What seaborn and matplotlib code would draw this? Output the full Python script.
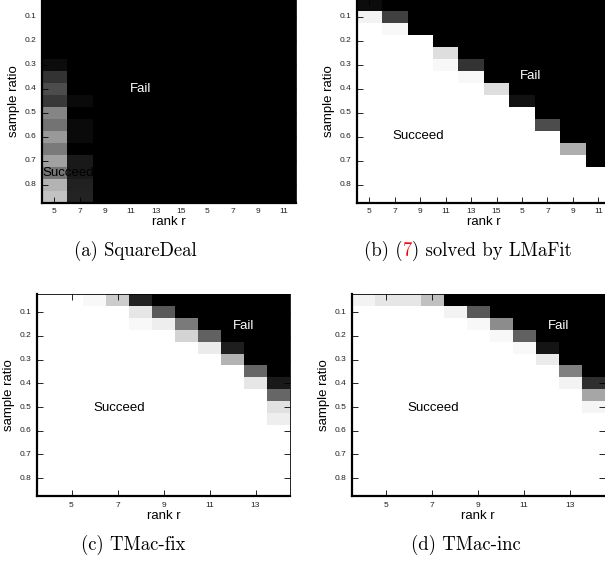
import matplotlib
matplotlib.use('Agg')
import matplotlib.pyplot as plt
import seaborn as sns
import numpy as np

# sample ratios (rows) shared by all four panels
ratios = [0.05, 0.10, 0.15, 0.20, 0.25, 0.30, 0.35, 0.40, 0.45,
          0.50, 0.55, 0.60, 0.65, 0.70, 0.75, 0.80, 0.85]
ratio_ticks = [0.1, 0.2, 0.3, 0.4, 0.5, 0.6, 0.7, 0.8]

# rank labels
ranks_ab = [5, 7, 9, 11, 13, 15, 5, 7, 9, 11]
ranks_cd = [4, 5, 6, 7, 8, 9, 10, 11, 12, 13, 14]
rank_ticks_cd = [5, 7, 9, 11, 13]

# success rate (1 = white / succeed, 0 = black / fail)
rate_squaredeal = [
    [0, 0, 0, 0, 0, 0, 0, 0, 0, 0],
    [0, 0, 0, 0, 0, 0, 0, 0, 0, 0],
    [0, 0, 0, 0, 0, 0, 0, 0, 0, 0],
    [0, 0, 0, 0, 0, 0, 0, 0, 0, 0],
    [0, 0, 0, 0, 0, 0, 0, 0, 0, 0],
    [0.05, 0, 0, 0, 0, 0, 0, 0, 0, 0],
    [0.20, 0, 0, 0, 0, 0, 0, 0, 0, 0],
    [0.30, 0, 0, 0, 0, 0, 0, 0, 0, 0],
    [0.22, 0.04, 0, 0, 0, 0, 0, 0, 0, 0],
    [0.52, 0, 0, 0, 0, 0, 0, 0, 0, 0],
    [0.45, 0.04, 0, 0, 0, 0, 0, 0, 0, 0],
    [0.60, 0.04, 0, 0, 0, 0, 0, 0, 0, 0],
    [0.48, 0, 0, 0, 0, 0, 0, 0, 0, 0],
    [0.63, 0.10, 0, 0, 0, 0, 0, 0, 0, 0],
    [0.46, 0.10, 0, 0, 0, 0, 0, 0, 0, 0],
    [0.70, 0.13, 0, 0, 0, 0, 0, 0, 0, 0],
    [0.76, 0.14, 0, 0, 0, 0, 0, 0, 0, 0],
]

rate_lmafit = [
    [0.05, 0, 0, 0, 0, 0, 0, 0, 0, 0],
    [0.95, 0.25, 0, 0, 0, 0, 0, 0, 0, 0],
    [1, 0.97, 0, 0, 0, 0, 0, 0, 0, 0],
    [1, 1, 1, 0, 0, 0, 0, 0, 0, 0],
    [1, 1, 1, 0.87, 0, 0, 0, 0, 0, 0],
    [1, 1, 1, 0.97, 0.20, 0, 0, 0, 0, 0],
    [1, 1, 1, 1, 0.97, 0, 0, 0, 0, 0],
    [1, 1, 1, 1, 1, 0.87, 0, 0, 0, 0],
    [1, 1, 1, 1, 1, 1, 0.07, 0, 0, 0],
    [1, 1, 1, 1, 1, 1, 1, 0, 0, 0],
    [1, 1, 1, 1, 1, 1, 1, 0.30, 0, 0],
    [1, 1, 1, 1, 1, 1, 1, 1, 0, 0],
    [1, 1, 1, 1, 1, 1, 1, 1, 0.68, 0],
    [1, 1, 1, 1, 1, 1, 1, 1, 1, 0],
    [1, 1, 1, 1, 1, 1, 1, 1, 1, 1],
    [1, 1, 1, 1, 1, 1, 1, 1, 1, 1],
    [1, 1, 1, 1, 1, 1, 1, 1, 1, 1],
]

rate_tmac_fix = [
    [1, 1, 0.97, 0.80, 0.13, 0, 0, 0, 0, 0, 0],
    [1, 1, 1, 1, 0.90, 0.35, 0, 0, 0, 0, 0],
    [1, 1, 1, 1, 0.97, 0.93, 0.48, 0, 0, 0, 0],
    [1, 1, 1, 1, 1, 1, 0.83, 0.38, 0, 0, 0],
    [1, 1, 1, 1, 1, 1, 1, 0.92, 0.12, 0, 0],
    [1, 1, 1, 1, 1, 1, 1, 1, 0.70, 0, 0],
    [1, 1, 1, 1, 1, 1, 1, 1, 1, 0.40, 0],
    [1, 1, 1, 1, 1, 1, 1, 1, 1, 0.90, 0.10],
    [1, 1, 1, 1, 1, 1, 1, 1, 1, 1, 0.40],
    [1, 1, 1, 1, 1, 1, 1, 1, 1, 1, 0.88],
    [1, 1, 1, 1, 1, 1, 1, 1, 1, 1, 0.93],
    [1, 1, 1, 1, 1, 1, 1, 1, 1, 1, 1],
    [1, 1, 1, 1, 1, 1, 1, 1, 1, 1, 1],
    [1, 1, 1, 1, 1, 1, 1, 1, 1, 1, 1],
    [1, 1, 1, 1, 1, 1, 1, 1, 1, 1, 1],
    [1, 1, 1, 1, 1, 1, 1, 1, 1, 1, 1],
    [1, 1, 1, 1, 1, 1, 1, 1, 1, 1, 1],
]

rate_tmac_inc = [
    [0.95, 0.90, 0.90, 0.75, 0, 0, 0, 0, 0, 0, 0],
    [1, 1, 1, 1, 0.95, 0.35, 0, 0, 0, 0, 0],
    [1, 1, 1, 1, 1, 0.97, 0.55, 0, 0, 0, 0],
    [1, 1, 1, 1, 1, 1, 0.97, 0.38, 0, 0, 0],
    [1, 1, 1, 1, 1, 1, 1, 0.97, 0.08, 0, 0],
    [1, 1, 1, 1, 1, 1, 1, 1, 0.92, 0, 0],
    [1, 1, 1, 1, 1, 1, 1, 1, 1, 0.50, 0],
    [1, 1, 1, 1, 1, 1, 1, 1, 1, 0.95, 0.18],
    [1, 1, 1, 1, 1, 1, 1, 1, 1, 1, 0.65],
    [1, 1, 1, 1, 1, 1, 1, 1, 1, 1, 0.96],
    [1, 1, 1, 1, 1, 1, 1, 1, 1, 1, 1],
    [1, 1, 1, 1, 1, 1, 1, 1, 1, 1, 1],
    [1, 1, 1, 1, 1, 1, 1, 1, 1, 1, 1],
    [1, 1, 1, 1, 1, 1, 1, 1, 1, 1, 1],
    [1, 1, 1, 1, 1, 1, 1, 1, 1, 1, 1],
    [1, 1, 1, 1, 1, 1, 1, 1, 1, 1, 1],
    [1, 1, 1, 1, 1, 1, 1, 1, 1, 1, 1],
]

plt.rcParams['font.family'] = ['Liberation Sans', 'DejaVu Sans']

W, H = 605, 562
fig = plt.figure(figsize=(W / 100, H / 100), dpi=100)


def px_axes(left, top, right, bottom):
    return fig.add_axes([left / W, 1 - bottom / H, (right - left) / W, (bottom - top) / H])


def panel(ax, rate, xlabels, xticks, fail_xy, succ_xy):
    sns.heatmap(np.array(rate), cmap='gray', vmin=0, vmax=1, cbar=False, ax=ax)
    # ticks at cell centres
    ax.set_yticks([ratios.index(r) + 0.5 for r in ratio_ticks])
    ax.set_yticklabels([f'{r:.1f}' for r in ratio_ticks], rotation=0)
    if xticks is None:
        ax.set_xticks(np.arange(len(xlabels)) + 0.5)
        ax.set_xticklabels([str(t) for t in xlabels])
    else:
        ax.set_xticks([xlabels.index(t) + 0.5 for t in xticks])
        ax.set_xticklabels([str(t) for t in xticks])
    ax.tick_params(direction='in', top=True, right=True, length=4, width=0.6,
                   labelsize=6, pad=4, labelcolor='#222222')
    for name, sp in ax.spines.items():
        sp.set_visible(True)
        sp.set_color('black')
        sp.set_linewidth(1.6 if name in ('left', 'bottom') else 0.6)
    ax.set_xlabel('rank r', fontsize=9.5, labelpad=1)
    ax.set_ylabel('sample ratio', fontsize=9.5, labelpad=3)
    ax.text(*fail_xy, 'Fail', color='white', fontsize=9.5, ha='center', va='center')
    ax.text(*succ_xy, 'Succeed', color='black', fontsize=9.5, ha='center', va='center')


ax_a = px_axes(41.7, -1, 296, 202.5)
panel(ax_a, rate_squaredeal, ranks_ab, None, (3.87, 7.5), (1.03, 14.5))

ax_b = px_axes(356.7, -1, 611, 202.5)
panel(ax_b, rate_lmafit, ranks_ab, None, (6.85, 6.45), (2.42, 11.45))

ax_c = px_axes(37, 294.3, 290, 496)
panel(ax_c, rate_tmac_fix, ranks_cd, rank_ticks_cd, (8.97, 2.65), (3.57, 9.56))

ax_d = px_axes(351.7, 294.3, 604.7, 496)
panel(ax_d, rate_tmac_inc, ranks_cd, rank_ticks_cd, (8.98, 2.65), (3.55, 9.56))

# sub-captions
cap = dict(fontsize=13.5, family='cmr10', va='center')
fig.text(135 / W, 1 - 251 / H, '(a) SquareDeal', ha='center', **cap)
parts = [('(b) (', 'black'), ('7', 'red'), (') solved by LMaFit', 'black')]
texts = [fig.text(0, 1 - 251 / H, s, color=c, ha='left', **cap) for s, c in parts]
fig.canvas.draw()
r = fig.canvas.get_renderer()
widths = [t.get_window_extent(r).width for t in texts]
x = 468 - sum(widths) / 2
for t, w in zip(texts, widths):
    t.set_x(x / W)
    x += w
fig.text(133 / W, 1 - 545 / H, '(c) TMac-fix', ha='center', **cap)
fig.text(466 / W, 1 - 545 / H, '(d) TMac-inc', ha='center', **cap)

fig.savefig('out.png', dpi=100)
